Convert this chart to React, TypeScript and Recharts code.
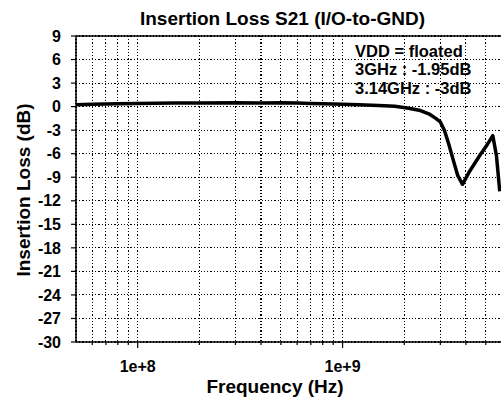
import { LineChart, Line, XAxis, YAxis, CartesianGrid, ReferenceLine } from 'recharts'

// S21 insertion loss, I/O-to-GND, VDD floated
const freqHz = [
  5e7, 6e7, 8e7, 1e8, 1.5e8, 2e8, 3e8, 4e8, 5e8, 6e8, 7e8, 8e8, 1e9, 1.2e9, 1.5e9,
  1.8e9, 2.1e9, 2.4e9, 2.67e9, 2.85e9, 3e9, 3.14e9, 3.3e9, 3.45e9, 3.65e9, 3.85e9,
  4.18e9, 4.68e9, 5.04e9, 5.41e9, 5.64e9, 5.85e9,
]
const lossDb = [
  0.25, 0.3, 0.35, 0.4, 0.45, 0.45, 0.5, 0.45, 0.5, 0.45, 0.4, 0.35, 0.3, 0.25, 0.15,
  0.05, -0.2, -0.5, -1.0, -1.5, -1.95, -3.0, -4.8, -6.6, -8.8, -9.9,
  -8.2, -6.2, -5.0, -3.7, -6.3, -10.8,
]

const xTicks = [
  6e7, 7e7, 8e7, 9e7, 1e8, 2e8, 3e8, 4e8, 5e8, 6e8, 7e8, 8e8, 9e8, 1e9, 2e9, 3e9, 4e9, 5e9,
]
const yTicks = [-30, -27, -24, -21, -18, -15, -12, -9, -6, -3, 0, 3, 6, 9]
const notes = ['VDD = floated', '3GHz : -1.95dB', '3.14GHz : -3dB']

const data = freqHz.map((f, i) => ({ f, v: lossDb[i] }))

const FONT = '"Liberation Sans", Arial, sans-serif'

function isDecade(v: number) {
  const l = Math.log10(v)
  return Math.abs(l - Math.round(l)) < 1e-6
}

function XTick(props: any) {
  const { x, y, payload } = props
  const major = isDecade(payload.value)
  return (
    <g>
      <line x1={x} x2={x} y1={y} y2={y + (major ? 6 : 3)} stroke="#000" strokeWidth={1.2} />
      {major && (
        <text
          x={x}
          y={y + 30}
          textAnchor="middle"
          fontFamily={FONT}
          fontWeight={700}
          fontSize={16}
          fill="#000"
        >
          {Number(payload.value).toExponential()}
        </text>
      )}
    </g>
  )
}

export default function App() {
  return (
    <div
      style={{
        position: 'absolute',
        left: 0,
        top: 0,
        width: 501,
        height: 401,
        overflow: 'hidden',
        background: '#fff',
        fontFamily: FONT,
      }}
    >
      <LineChart
        width={510}
        height={401}
        data={data}
        margin={{ top: 36, right: 8, left: 0, bottom: 0 }}
      >
        <CartesianGrid
          stroke="#000"
          strokeDasharray="1.2 2"
          strokeWidth={1.1}
          shapeRendering="crispEdges"
        />
        <XAxis
          dataKey="f"
          type="number"
          scale="log"
          domain={[5e7, 6e9]}
          allowDataOverflow
          ticks={xTicks}
          interval={0}
          height={59}
          tickSize={0}
          tickMargin={0}
          tickLine={false}
          tick={<XTick />}
          axisLine={{ stroke: '#000', strokeWidth: 1.5 }}
        />
        <YAxis
          type="number"
          domain={[-30, 9]}
          ticks={yTicks}
          interval={0}
          width={76}
          tickSize={5}
          tickMargin={10}
          tickLine={{ stroke: '#000', strokeWidth: 1.2 }}
          axisLine={{ stroke: '#000', strokeWidth: 1.5 }}
          tick={{ fontSize: 16, fontWeight: 700, fill: '#000', fontFamily: FONT }}
          allowDataOverflow
        />
        <ReferenceLine y={9} stroke="#000" strokeWidth={1.5} />
        <Line
          dataKey="v"
          type="linear"
          stroke="#000"
          strokeWidth={3.5}
          strokeLinejoin="round"
          dot={false}
          isAnimationActive={false}
        />
      </LineChart>

      <div
        style={{
          position: 'absolute',
          left: 0,
          top: 8,
          width: 565,
          textAlign: 'center',
          fontSize: 19,
          fontWeight: 700,
          lineHeight: '22px',
        }}
      >
        Insertion Loss S21 (I/O-to-GND)
      </div>

      <div
        style={{
          position: 'absolute',
          left: 0,
          top: 376,
          width: 550,
          textAlign: 'center',
          fontSize: 19,
          fontWeight: 700,
          lineHeight: '22px',
        }}
      >
        Frequency (Hz)
      </div>

      <div
        style={{
          position: 'absolute',
          left: 24 - 100,
          top: 190 - 11,
          width: 200,
          textAlign: 'center',
          fontSize: 19,
          fontWeight: 700,
          lineHeight: '22px',
          transform: 'rotate(-90deg)',
        }}
      >
        Insertion Loss (dB)
      </div>

      <div
        style={{
          position: 'absolute',
          left: 355,
          top: 42,
          fontSize: 16.5,
          fontWeight: 700,
          lineHeight: '18.3px',
          whiteSpace: 'nowrap',
        }}
      >
        {notes.map((n) => (
          <div key={n}>{n}</div>
        ))}
      </div>
    </div>
  )
}
